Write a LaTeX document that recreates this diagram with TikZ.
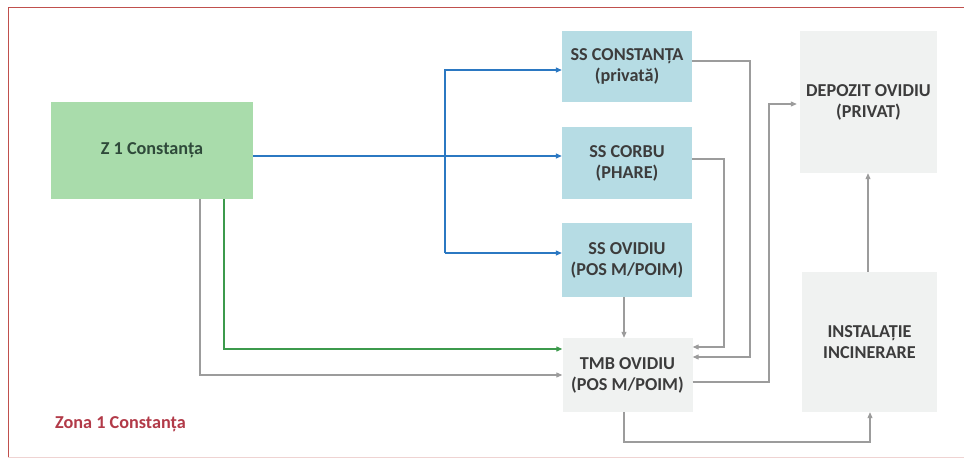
\documentclass[tikz,border=0pt]{standalone}
\usepackage{fontspec}
\setmainfont{Carlito}
\usetikzlibrary{arrows.meta}
\definecolor{zgreen}{HTML}{A9DCAB}
\definecolor{sblue}{HTML}{B6DCE4}
\definecolor{lgray}{HTML}{F0F2F1}
\definecolor{lblue}{HTML}{2B78C2}
\definecolor{lgreen}{HTML}{3C9A4C}
\definecolor{lgr}{HTML}{9C9C9C}
\definecolor{redb}{HTML}{C0504D}
\definecolor{txt}{HTML}{3C3C3C}
\definecolor{ztxt}{HTML}{2F4A3A}
\definecolor{zona}{HTML}{B23A48}
\begin{document}
\begin{tikzpicture}[x=1pt,y=-1pt,
  box/.style={rectangle,inner sep=0pt,align=center,font=\fontsize{18.2}{21}\selectfont\bfseries,text=txt},
  tip/.style={-{Triangle[length=6pt,width=5pt]}},
  bl/.style={draw=lblue,line width=1.2pt,tip},
  gn/.style={draw=lgreen,line width=1.2pt,tip},
  gr/.style={draw=lgr,line width=1.1pt,tip}]
\useasboundingbox (0,0) rectangle (964,458);
\fill[white] (0,0) rectangle (964,458);
% border
\draw[redb,line width=1pt] (964,7) -- (8,7) -- (8,457);
\draw[redb!25,line width=0.6pt] (8,457) -- (964,457);
% nodes
\node[box,fill=zgreen,minimum width=202pt,minimum height=97pt,text=ztxt] (Z1) at (152,150.5) {Z 1 Constanța};
\node[box,fill=sblue,minimum width=130pt,minimum height=71pt] (SSC) at (627,66.5) {SS CONSTANȚA\\(privată)};
\node[box,fill=sblue,minimum width=130pt,minimum height=72pt] (SSB) at (627,163) {SS CORBU\\(PHARE)};
\node[box,fill=sblue,minimum width=130pt,minimum height=74pt] (SSO) at (627,260) {SS OVIDIU\\(POS M/POIM)};
\node[box,fill=lgray,minimum width=130pt,minimum height=74pt] (TMB) at (627.5,375) {TMB OVIDIU\\(POS M/POIM)};
\node[box,fill=lgray,minimum width=137pt,minimum height=142pt] (DEP) at (868.5,102) {DEPOZIT OVIDIU\\(PRIVAT)};
\node[box,fill=lgray,minimum width=135pt,minimum height=140pt] (INS) at (869.5,342) {INSTALAȚIE\\INCINERARE};
\node[anchor=west,inner sep=0pt,font=\fontsize{18.2}{21}\selectfont\bfseries,text=zona] (ZL) at (55,424) {Zona 1 Constanța};
% coordinates
\coordinate (bj) at (445,156);
\coordinate (bt) at (445,70);
\coordinate (bb) at (445,253);
\coordinate (gnx) at (224,349);
\coordinate (grx) at (200,375);
\coordinate (c1) at (750,61);
\coordinate (c2) at (750,357);
\coordinate (d1) at (724,159);
\coordinate (d2) at (724,347);
\coordinate (e1) at (769,382);
\coordinate (e2) at (769,104);
\coordinate (f1) at (624,442);
\coordinate (f2) at (870,442);
% blue
\draw[bl] (Z1.east |- bj) -- (SSB.west |- bj);
\draw[bl] (bb) -- (bt) -- (SSC.west |- bt);
\draw[bl] (bb) -- (SSO.west |- bb);
% green and gray from Z1
\draw[gn] (Z1.south -| gnx) -- (gnx) -- (TMB.west |- gnx);
\draw[gr] (Z1.south -| grx) -- (grx) -- (TMB.west |- grx);
% SS -> TMB
\draw[gr] (SSO.south -| f1) -- (TMB.north -| f1);
\draw[gr] (SSC.east |- c1) -- (c1) -- (c2) -- (TMB.east |- c2);
\draw[gr] (SSB.east |- d1) -- (d1) -- (d2) -- (TMB.east |- d2);
% TMB -> DEP, INS
\draw[gr] (TMB.east |- e1) -- (e1) -- (e2) -- ([xshift=-3pt]DEP.west |- e2);
\draw[gr] (TMB.south -| f1) -- (f1) -- (f2) -- (INS.south -| f2);
\draw[gr] (INS.north -| 868,0) -- (DEP.south -| 868,0);
\end{tikzpicture}
\end{document}
